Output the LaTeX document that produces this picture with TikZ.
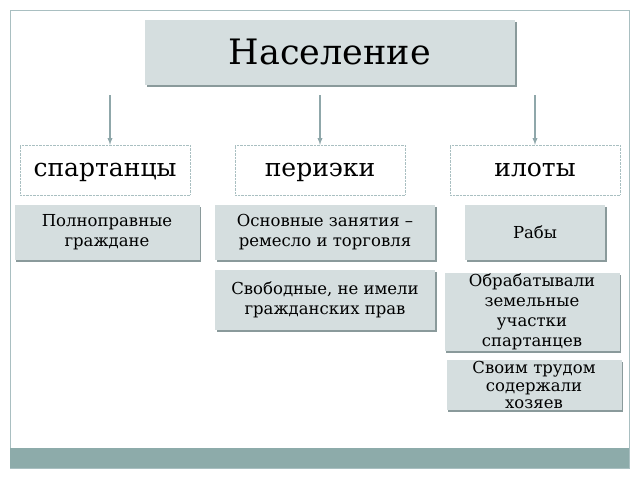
\documentclass[tikz,border=0pt]{standalone}
\usepackage{fontspec}
\setmainfont{DejaVu Serif}
\begin{document}
\begin{tikzpicture}[x=1pt,y=-1pt,
 gbox/.style={draw=none,fill=boxfill,minimum width=#1,align=center,inner sep=1pt,
   preaction={fill=boxshadow,transform canvas={xshift=1.5pt,yshift=-2pt}}},
 dbox/.style={draw=dashc,densely dotted,fill=white,minimum width=170pt,minimum height=50pt,text height=18pt,text depth=5pt,font=\fontsize{25}{28}\selectfont},
 arr/.style={draw=arrc,line width=1.3pt,-{latex}},
 txt/.style={font=\fontsize{16.5}{20}\selectfont}]
\definecolor{boxfill}{HTML}{D5DEDF}
\definecolor{boxshadow}{HTML}{8A9A9B}
\definecolor{dashc}{HTML}{A9BFC1}
\definecolor{arrc}{HTML}{8FA7AA}
\definecolor{band}{HTML}{8DABAA}
\useasboundingbox (0,0) rectangle (640,480);
\fill[white] (0,0) rectangle (640,480);
\draw[draw=dashc,line width=0.8pt] (10,10) rectangle (629,468);
\fill[band] (10,448) rectangle (629,468);
\node[gbox=370pt,minimum height=65pt,font=\fontsize{35}{38}\selectfont] (pop) at (330,52) {Население};
\node[dbox] (sp) at (105,170) {спартанцы};
\node[dbox] (pe) at (320,170) {периэки};
\node[dbox] (il) at (535,170) {илоты};
\coordinate (a1) at (110,95); \coordinate (a2) at (320,95); \coordinate (a3) at (535,95);
\draw[arr] (a1) -- (sp.north -| a1);
\draw[arr] (a2) -- (pe.north);
\draw[arr] (a3) -- (il.north);
\node[gbox=185pt,minimum height=55pt,txt] (b1) at (107,232) {Полноправные\\граждане};
\node[gbox=220pt,minimum height=55pt,txt] (b2) at (325,232) {Основные занятия –\\ремесло и торговля};
\node[gbox=140pt,minimum height=55pt,txt] (b3) at (535,232) {Рабы};
\node[gbox=220pt,minimum height=60pt,txt] (b4) at (325,300) {Свободные, не имели\\гражданских прав};
\node[gbox=175pt,minimum height=75pt,txt] (b5) at (532,312) {Обрабатывали\\земельные\\участки\\спартанцев};
\node[gbox=175pt,minimum height=50pt,font=\fontsize{16.5}{17.5}\selectfont] (b6) at (534,385) {Своим трудом\\содержали\\хозяев};
\end{tikzpicture}
\end{document}
